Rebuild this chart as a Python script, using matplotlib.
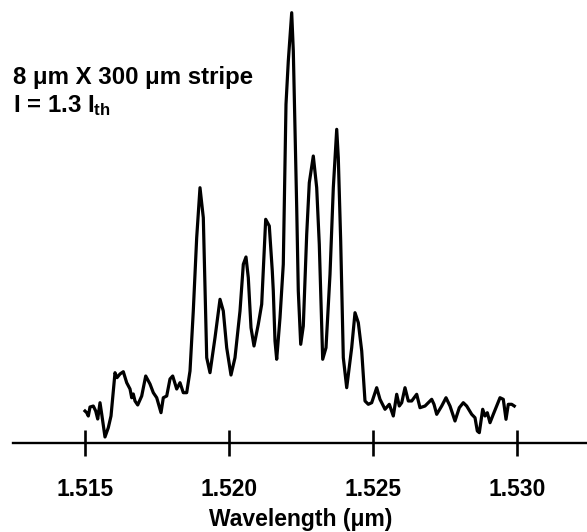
import matplotlib
matplotlib.use("Agg")
import matplotlib.pyplot as plt

# Wavelength (um) and intensity (a.u.)
wavelength_um = [
    1.515000, 1.515059, 1.515115, 1.515174, 1.515288, 1.515372, 1.515441, 1.515521,
    1.515580, 1.515694, 1.515809, 1.515903, 1.516042, 1.516111, 1.516215, 1.516330,
    1.516448, 1.516563, 1.516622, 1.516677, 1.516736, 1.516830, 1.516969, 1.517108,
    1.517257, 1.517372, 1.517490, 1.517639, 1.517719, 1.517837, 1.517951, 1.518045,
    1.518184, 1.518299, 1.518413, 1.518531, 1.518646, 1.518760, 1.518878, 1.518993,
    1.519108, 1.519226, 1.519340, 1.519514, 1.519688, 1.519802, 1.519920, 1.520069,
    1.520208, 1.520382, 1.520497, 1.520590, 1.520670, 1.520764, 1.520868, 1.521017,
    1.521135, 1.521274, 1.521399, 1.521503, 1.521538, 1.521597, 1.521656, 1.521771,
    1.521885, 1.521979, 1.522059, 1.522177, 1.522233, 1.522351, 1.522406, 1.522490,
    1.522580, 1.522698, 1.522788, 1.522927, 1.523045, 1.523135, 1.523253, 1.523368,
    1.523507, 1.523622, 1.523740, 1.523795, 1.523878, 1.523969, 1.524087, 1.524260,
    1.524375, 1.524490, 1.524608, 1.524722, 1.524837, 1.524955, 1.525128, 1.525243,
    1.525417, 1.525566, 1.525705, 1.525823, 1.525913, 1.525997, 1.526111, 1.526226,
    1.526344, 1.526517, 1.526632, 1.526806, 1.526920, 1.527038, 1.527118, 1.527212,
    1.527385, 1.527535, 1.527674, 1.527847, 1.527997, 1.528135, 1.528253, 1.528427,
    1.528542, 1.528622, 1.528691, 1.528809, 1.528889, 1.528969, 1.529063, 1.529177,
    1.529295, 1.529410, 1.529524, 1.529618, 1.529698, 1.529816, 1.529906,
]
intensity_au = [
    7.44, 7.05, 6.28, 8.37, 8.60, 7.44, 5.58, 9.37,
    6.74, 1.40, 3.56, 6.28, 16.35, 15.19, 16.05, 16.58,
    14.02, 12.56, 10.53, 11.40, 9.77, 8.84, 10.93, 15.58,
    13.72, 11.70, 10.53, 7.05, 10.53, 10.93, 14.88, 15.58,
    12.56, 14.02, 11.70, 11.70, 16.74, 30.70, 47.74, 59.37,
    52.40, 19.84, 16.35, 24.49, 33.42, 30.70, 22.16, 15.81,
    19.84, 30.70, 41.56, 43.26, 38.44, 26.81, 22.56, 27.60,
    32.26, 52.02, 50.47, 40.00, 35.35, 23.72, 19.47, 29.14,
    41.56, 78.77, 88.84, 100.07, 91.16, 54.72, 35.35, 22.95,
    27.21, 48.53, 60.53, 66.74, 59.37, 46.21, 19.47, 22.16,
    39.23, 59.37, 72.95, 66.35, 46.98, 19.84, 12.86, 22.16,
    30.30, 27.98, 21.40, 9.77, 9.00, 9.37, 12.86, 10.16,
    7.84, 9.00, 6.28, 11.33, 8.60, 9.37, 12.86, 9.77,
    9.77, 11.33, 8.21, 8.60, 9.37, 10.16, 9.00, 6.67,
    8.60, 10.53, 8.60, 5.12, 8.21, 9.37, 8.60, 6.67,
    5.88, 2.79, 2.40, 7.84, 6.28, 7.05, 4.72, 6.67,
    8.60, 10.53, 10.16, 5.51, 9.00, 9.00, 8.60,
]
tick_values = [1.515, 1.520, 1.525, 1.530]
tick_labels = ["1.515", "1.520", "1.525", "1.530"]

plt.rcParams['font.family'] = ['Liberation Sans', 'DejaVu Sans']
plt.rcParams['font.weight'] = 'bold'
plt.rcParams['mathtext.fontset'] = 'custom'
plt.rcParams['mathtext.rm'] = 'Liberation Sans:bold'
plt.rcParams['mathtext.it'] = 'Liberation Sans:bold'
plt.rcParams['mathtext.bf'] = 'Liberation Sans:bold'

W, H = 587, 532
fig = plt.figure(figsize=(W / 100, H / 100), dpi=100)
axis_y = 443
ax = fig.add_axes([13 / W, (H - axis_y) / H, 1 - 13 / W, axis_y / H])

ax.plot(wavelength_um, intensity_au, color='black', lw=2.3, solid_joinstyle='round')

px_per_um = 432 / 0.015
ax.set_xlim(1.515 - 72 / px_per_um, 1.530 + 70 / px_per_um)
ax.set_ylim(0, axis_y / 4.3)

for s in ['left', 'top', 'right']:
    ax.spines[s].set_visible(False)
ax.spines['bottom'].set_linewidth(1.7)
ax.set_yticks([])
ax.set_xticks(tick_values)
ax.set_xticklabels(tick_labels, fontsize=16.5, fontweight='bold')
ax.tick_params(axis='x', direction='inout', length=19, width=1.9, pad=16)
ax.patch.set_alpha(0)

fig.text(301 / W, 1 - 526 / H, "Wavelength (\u03bcm)", ha='center', va='baseline',
         fontsize=16.5, fontweight='bold')
fig.text(13 / W, 1 - 84 / H, "8 \u03bcm X 300 \u03bcm stripe", ha='left', va='baseline',
         fontsize=17.3, fontweight='bold')
fig.text(13 / W, 1 - 112 / H, "I = 1.3 I$_{th}$", ha='left', va='baseline',
         fontsize=17.3, fontweight='bold')

fig.savefig("out.png", dpi=100)
